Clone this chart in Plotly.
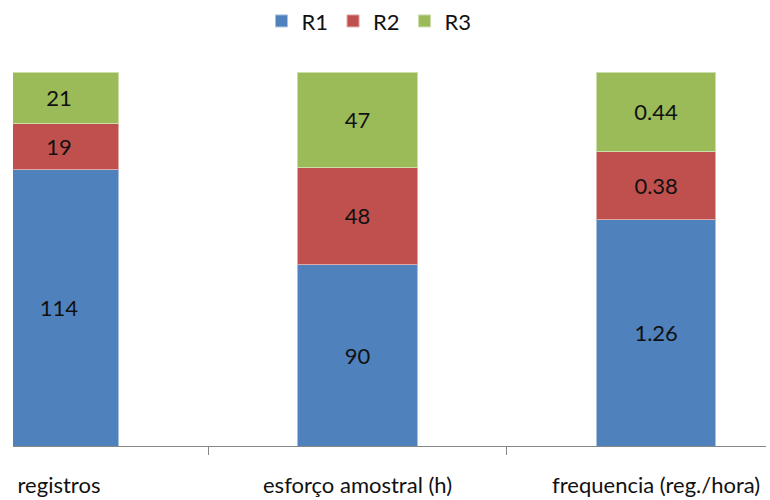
import plotly.graph_objects as go

categories = ["registros", "esforço amostral (h)", "frequencia (reg./hora)"]
r1 = [114, 90, 1.26]
r2 = [19, 48, 0.38]
r3 = [21, 47, 0.44]
series_names = ["R1", "R2", "R3"]
colors = ["#4F81BD", "#C0504D", "#9BBB59"]
edge_colors = ["#A7C0DE", "#DFA8A6", "#CDDDAC"]

FONT = "Lato"

fig = go.Figure()
for name, vals, col, ec in zip(series_names, [r1, r2, r3], colors, edge_colors):
    fig.add_trace(go.Bar(
        name=name,
        x=categories,
        y=vals,
        marker=dict(color=col, line=dict(color=ec, width=1)),
        text=[f"{v:g}" for v in vals],
        textposition="inside",
        insidetextanchor="middle",
        textangle=0,
        constraintext="none",
        textfont=dict(family=FONT, size=22, color="#111111"),
        hoverinfo="skip",
    ))

fig.update_layout(
    barmode="stack",
    barnorm="percent",
    bargap=0.6,
    width=770,
    height=500,
    margin=dict(l=13, r=4, t=72, b=54, autoexpand=False),
    paper_bgcolor="white",
    plot_bgcolor="white",
    font=dict(family=FONT, size=22, color="#111111"),
    legend=dict(
        orientation="h",
        x=0.33,
        xanchor="left",
        y=1.136,
        yanchor="middle",
        font=dict(family=FONT, size=22, color="#111111"),
        itemwidth=30,
        traceorder="normal",
    ),
    xaxis=dict(
        range=[-0.154, 2.368],
        showline=True,
        linecolor="#868686",
        linewidth=1,
        ticks="outside",
        tickson="boundaries",
        ticklen=8,
        tickcolor="#868686",
        showgrid=False,
        zeroline=False,
        automargin=False,
        tickfont=dict(family=FONT, size=22, color="#111111"),
        ticklabelstandoff=20,
        fixedrange=True,
    ),
    yaxis=dict(
        range=[0, 100],
        visible=False,
        showgrid=False,
        fixedrange=True,
    ),
)

# remove the default page margin so the 770x500 figure fills the window exactly
fig.write_html(
    "out.html",
    config={"displayModeBar": False},
    post_script="document.body.style.margin='0';document.body.style.overflow='hidden';",
)
